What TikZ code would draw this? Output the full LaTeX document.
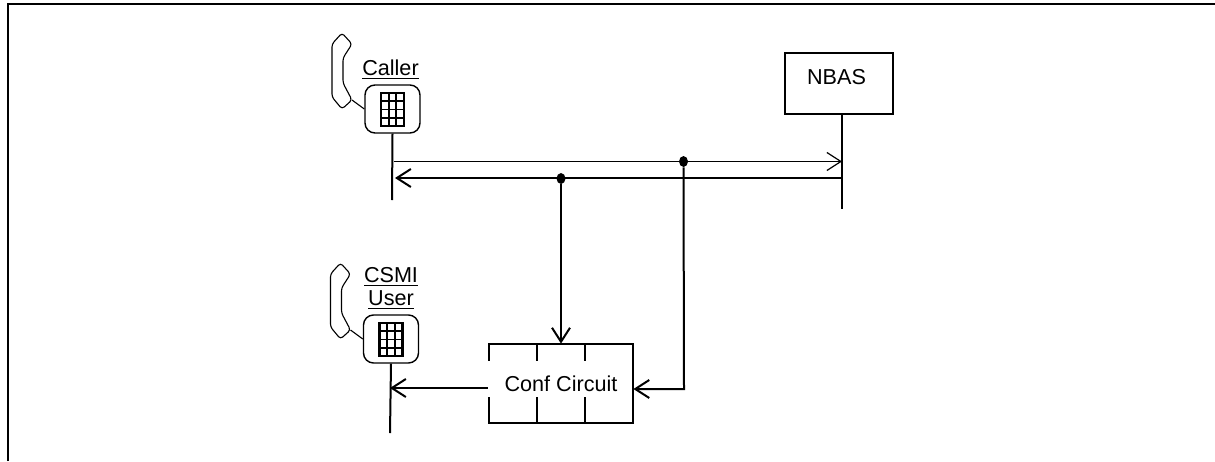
\documentclass[tikz,border=0pt]{standalone}
\usepackage{fontspec}
\setmainfont{Liberation Sans}
\usetikzlibrary{arrows.meta,shapes.geometric}

\begin{document}
\begin{tikzpicture}[
  x=0.5pt, y=-0.5pt,
  >={Straight Barb[length=7pt,width=9pt]},
  wire/.style={line width=1pt},
  thin wire/.style={line width=0.6pt},
  box node/.style={draw, line width=1pt, minimum width=54pt, minimum height=30.5pt, inner sep=0pt},
  phone body/.style={draw, line width=0.7pt, rounded corners=5pt, minimum width=27.5pt, minimum height=24pt, inner sep=0pt},
  circuit node/.style={minimum width=72pt, minimum height=39.5pt, inner sep=0pt, font=\fontsize{10.8}{12}\selectfont},
  dot node/.style={ellipse, fill=black, minimum width=4.5pt, minimum height=5.5pt, inner sep=0pt},
  label node/.style={inner sep=0pt, font=\fontsize{10.8}{12}\selectfont, anchor=base},
]
\useasboundingbox (0,0) rectangle (1215,461);

% Outer frame, open at the bottom and right
\draw[line width=1pt] (8,461) -- (8,4) -- (1215,4);

% Phones
\foreach \name/\dx/\dy in {caller/0/0, user/-1.5/230} {
  \begin{scope}[shift={(\dx,\dy)}]
    \draw[line width=0.55pt, rounded corners=1.5pt] (342,33) -- (352,44) -- (343,58) -- (343,83)
      -- (352,100) -- (342,109) -- (332,97) -- (332,44) -- cycle;
    \node[phone body] (\name) at (392.5,109) {};
    \draw[line width=0.55pt] (352,100) -- (\name.west);
    \draw[line width=1.1pt] (381,93) rectangle (404,126);
    \foreach \i in {1,2} { \draw[line width=0.9pt] (381+\i*7.67,93) -- (381+\i*7.67,126); }
    \foreach \j in {1,2,3} { \draw[line width=0.9pt] (381,93+\j*8.25) -- (404,93+\j*8.25); }
  \end{scope}
}
\node[label node] (callerlabel) at (390.5,75) {\underline{Caller}};
\node[label node] (csmilabel) at (391,282) {\underline{CSMI}};
\node[label node] (userlabel) at (391,305) {\underline{User}};

% NBAS and conference circuit
\node[box node] (nbas) at (839,83.5) {};
\node[label node] (nbaslabel) at (836.5,84) {NBAS};
\node[circuit node] (conf) at (561,383.5) {Conf Circuit\hspace{2pt}};
\draw[wire] (conf.south west) ++(0,-26) -- (conf.south west) -- (conf.south east)
  -- (conf.north east) -- (conf.north west) -- ++(0,17);
\foreach \x in {537,585} {
  \draw[wire] (\x,344) -- (\x,361);
  \draw[wire] (\x,397) -- (\x,423);
}

% Life lines
\coordinate (callerend) at (392,200);
\coordinate (userend) at (390,433);
\coordinate (nbasend) at (842,209);
\draw[wire] (caller.south) -- (callerend);
\draw[wire] (user.south) -- (userend);
\draw[wire] (nbas.south -| nbasend) -- (nbasend);

% Signal lines
\coordinate (callerout) at (394,161.5);
\coordinate (nbasin) at (842,161.5);
\coordinate (nbasout) at (842,178);
\coordinate (callerin) at (395,178);
\coordinate (userin) at (390,388);
\coordinate (corner) at (684,389);
\node[dot node] (tapa) at (561,178.5) {};
\node[dot node] (tapb) at (683.5,161.5) {};
\draw[thin wire,->] (callerout) -- (nbasin);
\draw[wire,->] (nbasout) -- (callerin);
\draw[wire,->] (tapa) -- (conf.north);
\draw[wire,->] (tapb) -- (corner) -- (conf.east |- corner);
\draw[wire,->] (conf.west |- userin) ++(-1,0) -- (userin);

\end{tikzpicture}
\end{document}
